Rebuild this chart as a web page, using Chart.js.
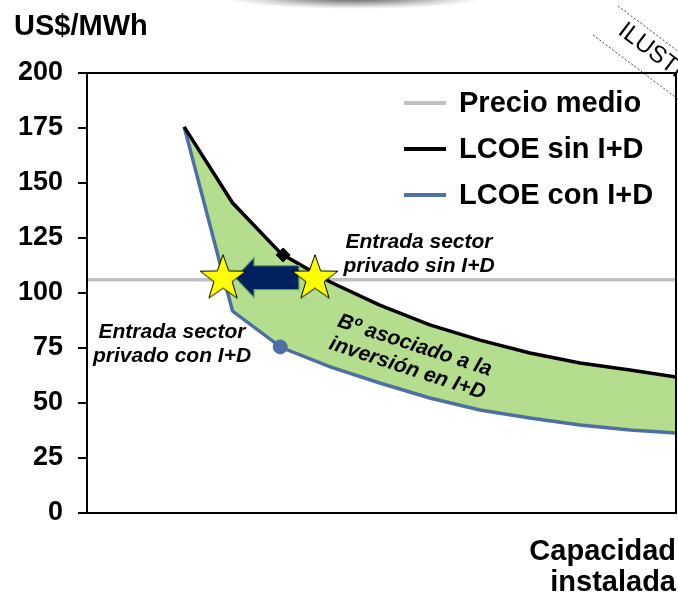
<!DOCTYPE html>
<html><head><meta charset="utf-8">
<script src="https://cdn.jsdelivr.net/npm/chart.js@4/dist/chart.umd.min.js"></script>
<style>html,body{margin:0;padding:0;background:#fff}#wrap{width:678px;height:595px;position:relative}</style>
</head><body><div id="wrap"><canvas id="c" width="678" height="595"></canvas></div>
<script>
// ---- data ----
const capacity   = [16.5, 24.7, 33.0, 41.3, 49.7, 58.2, 66.7, 75.2, 83.7, 92.2, 100];
const lcoeSinID  = [175.5, 141, 117.8, 105.0, 94.5, 85.5, 78.6, 72.7, 68.2, 65.0, 61.8];
const lcoeConID  = [175.5, 91.8, 75.2, 66.4, 59.1, 52.3, 46.8, 43.2, 40.0, 37.7, 36.4];
const precioMedio = 106;
const xRange = [0, 100];
const yTickValues = [0, 25, 50, 75, 100, 125, 150, 175, 200];
const entradaCon = {x: 23.1, y: 107};
const entradaSin = {x: 38.7, y: 107};
const markerSin = {x: 33.3, y: 117.3};
const markerCon = {x: 32.8, y: 75.5};
const legendLabels = ['Precio medio', 'LCOE sin I+D', 'LCOE con I+D'];

const BLUE = '#4d6fa3', GREEN = '#b4dd8e', GRAY = '#c0c0c0';
const FONT = '"Liberation Sans", Arial, sans-serif';

// star image
const star = document.createElement('canvas');
star.width = 52; star.height = 50;
(function(){
  const g = star.getContext('2d'); const R = 24, r = 9.6, cx = 26, cy = 26;
  g.beginPath();
  for (let i = 0; i < 10; i++) {
    const rad = i % 2 ? r : R; const a = -Math.PI/2 + i*Math.PI/5;
    const px = cx + rad*Math.cos(a), py = cy + rad*Math.sin(a);
    i ? g.lineTo(px, py) : g.moveTo(px, py);
  }
  g.closePath(); g.fillStyle = '#ffff00'; g.fill();
  g.lineWidth = 1; g.strokeStyle = '#000'; g.stroke();
})();

const pts = (ys) => capacity.map((x, i) => ({x, y: ys[i]}));

const deco = {
  id: 'deco',
  beforeDraw(chart) {
    const ctx = chart.ctx;
    ctx.save();
    ctx.fillStyle = '#fff'; ctx.fillRect(0, 0, chart.width, chart.height);
    // top shadow
    ctx.translate(355, -2); ctx.scale(1, 0.085);
    const g = ctx.createRadialGradient(0, 0, 0, 0, 0, 130);
    g.addColorStop(0, 'rgba(80,80,80,1)'); g.addColorStop(0.5, 'rgba(120,120,120,0.6)'); g.addColorStop(1, 'rgba(150,150,150,0)');
    ctx.fillStyle = g; ctx.beginPath(); ctx.arc(0, 0, 130, 0, Math.PI*2); ctx.fill();
    ctx.restore();
  },
  afterDatasetDraw(chart, args) {
    if (args.index !== 2) return;
    const ctx = chart.ctx, xs = chart.scales.x, ys = chart.scales.y;
    const L = xs.getPixelForValue(entradaCon.x), R = xs.getPixelForValue(entradaSin.x);
    const y = ys.getPixelForValue(entradaCon.y);
    const tip = L + 12, tail = R - 16, hl = 19, sh = 12, hh = 20;
    ctx.save();
    ctx.beginPath();
    ctx.moveTo(tip, y); ctx.lineTo(tip + hl, y - hh); ctx.lineTo(tip + hl, y - sh);
    ctx.lineTo(tail, y - sh); ctx.lineTo(tail, y + sh); ctx.lineTo(tip + hl, y + sh);
    ctx.lineTo(tip + hl, y + hh); ctx.closePath();
    ctx.fillStyle = '#002060'; ctx.fill();
    ctx.lineWidth = 1.2; ctx.strokeStyle = '#6aa84f'; ctx.stroke();
    ctx.restore();
  },
  afterDraw(chart) {
    const ctx = chart.ctx, a = chart.chartArea;
    ctx.save();
    // plot box
    ctx.strokeStyle = '#000'; ctx.lineWidth = 2;
    ctx.strokeRect(a.left, a.top, a.right - a.left, a.bottom - a.top);
    ctx.fillStyle = '#000';
    // unit
    ctx.font = 'bold 29px ' + FONT; ctx.textAlign = 'left'; ctx.textBaseline = 'alphabetic';
    ctx.fillText('US$/MWh', 14, 35);
    // x-axis title
    ctx.textAlign = 'right';
    ctx.fillText('Capacidad', 676, 560);
    ctx.fillText('instalada', 676, 591);
    // legend
    const legY = [103, 149, 195], legC = [GRAY, '#000', BLUE];
    ctx.font = 'bold 29px ' + FONT; ctx.textAlign = 'left'; ctx.textBaseline = 'middle';
    legendLabels.forEach((t, i) => {
      ctx.strokeStyle = legC[i]; ctx.lineWidth = 4;
      ctx.beginPath(); ctx.moveTo(404, legY[i]); ctx.lineTo(446, legY[i]); ctx.stroke();
      ctx.fillStyle = '#000'; ctx.fillText(t, 459, legY[i] + 1);
    });
    // annotations
    ctx.font = 'italic bold 21px ' + FONT; ctx.textAlign = 'center'; ctx.textBaseline = 'alphabetic';
    ctx.fillText('Entrada sector', 419, 248);
    ctx.fillText('privado sin I+D', 419, 272);
    ctx.fillText('Entrada sector', 172, 338);
    ctx.fillText('privado con I+D', 172, 362);
    ctx.save();
    ctx.translate(411, 357); ctx.rotate(18 * Math.PI / 180);
    ctx.font = 'italic bold 21px ' + FONT; ctx.textBaseline = 'middle';
    ctx.fillText('B\u00BA asociado a la', 0, -12);
    ctx.fillText('inversi\u00F3n en I+D', 0, 12);
    ctx.restore();
    // stamp
    ctx.save();
    ctx.strokeStyle = '#444'; ctx.lineWidth = 1; ctx.setLineDash([2, 2]);
    const s = Math.tan(37 * Math.PI / 180);
    ctx.beginPath(); ctx.moveTo(618, 6); ctx.lineTo(690, 6 + 72 * s); ctx.stroke();
    ctx.beginPath(); ctx.moveTo(593, 35); ctx.lineTo(690, 35 + 97 * s); ctx.stroke();
    ctx.setLineDash([]);
    ctx.translate(621, 28); ctx.rotate(37 * Math.PI / 180);
    ctx.font = '24px ' + FONT; ctx.textAlign = 'left'; ctx.textBaseline = 'middle'; ctx.fillStyle = '#000';
    ctx.fillText('ILUSTRATIVO', 0, 0);
    ctx.restore();
    ctx.restore();
  }
};

new Chart(document.getElementById('c'), {
  type: 'line',
  data: {
    datasets: [
      { label: 'Entrada', data: [entradaCon, entradaSin], showLine: false,
        pointStyle: star, pointRadius: 23, pointHoverRadius: 23 },
      { label: 'markers', data: [markerSin, markerCon], showLine: false,
        pointStyle: ['rectRot', 'circle'], pointRadius: [7, 7],
        backgroundColor: ['#000', BLUE], borderColor: ['#000', BLUE], borderWidth: 1 },
      { label: legendLabels[1], data: pts(lcoeSinID), borderColor: '#000', borderWidth: 3.5,
        pointRadius: 0, tension: 0, fill: false },
      { label: legendLabels[2], data: pts(lcoeConID), borderColor: BLUE, borderWidth: 3.5,
        pointRadius: 0, tension: 0, fill: '-1', backgroundColor: GREEN },
      { label: legendLabels[0], data: [{x: xRange[0], y: precioMedio}, {x: xRange[1], y: precioMedio}],
        borderColor: GRAY, borderWidth: 3.5, pointRadius: 0, fill: false }
    ]
  },
  options: {
    responsive: false, animation: false, devicePixelRatio: 1,
    layout: { autoPadding: false, padding: { top: 73, right: 2, left: 0, bottom: 0 } },
    plugins: { legend: { display: false }, tooltip: { enabled: false } },
    events: [],
    scales: {
      x: { type: 'linear', min: xRange[0], max: xRange[1],
        ticks: { display: false }, grid: { display: false }, border: { display: false },
        afterFit(s) { s.height = 82; } },
      y: { min: 0, max: 200,
        afterBuildTicks(s) { s.ticks = yTickValues.map(v => ({value: v})); },
        ticks: { color: '#000', padding: 15, font: { family: FONT, size: 27, weight: 'bold' } },
        grid: { drawOnChartArea: false, drawTicks: true, tickLength: 9, color: '#000', lineWidth: 2 },
        border: { display: false },
        afterFit(s) { s.width = 87; } }
    }
  },
  plugins: [deco]
});
</script></body></html>
